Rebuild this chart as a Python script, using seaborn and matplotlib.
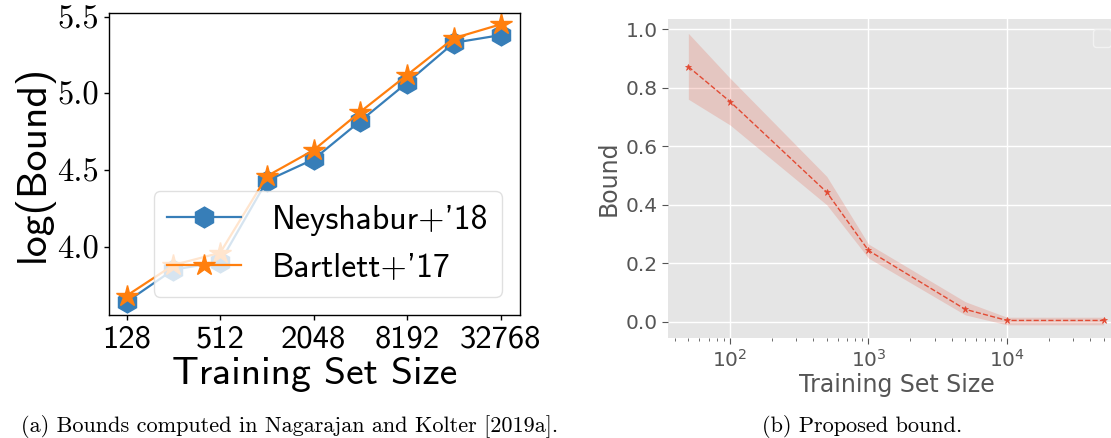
import numpy as np
import pandas as pd
import seaborn as sns
import matplotlib.pyplot as plt

# (a) log(Bound) from Nagarajan and Kolter
train_sizes = [128, 256, 512, 1024, 2048, 4096, 8192, 16384, 32768]
neyshabur = [3.64, 3.85, 3.90, 4.43, 4.57, 4.82, 5.07, 5.33, 5.38]
bartlett = [3.68, 3.88, 3.96, 4.46, 4.63, 4.88, 5.12, 5.36, 5.45]
left_xticks = [128, 512, 2048, 8192, 32768]
left_yticks = [4.0, 4.5, 5.0, 5.5]

# (b) proposed bound, mean and band
sizes = [50, 100, 500, 1000, 5000, 10000, 50000]
bound_mean = [0.872, 0.753, 0.443, 0.244, 0.043, 0.005, 0.005]
bound_upper = [0.986, 0.833, 0.497, 0.266, 0.069, 0.016, 0.016]
bound_lower = [0.761, 0.673, 0.400, 0.218, 0.024, -0.010, -0.010]
right_yticks = [0.0, 0.2, 0.4, 0.6, 0.8, 1.0]

plt.rcParams['axes.unicode_minus'] = False

W, H = 1111, 438
fig = plt.figure(figsize=(W / 100, H / 100), dpi=100)
# axes boxes in pixels: left, top, right, bottom
ax1 = fig.add_axes([108.5 / W, 1 - 315 / H, (520 - 108.5) / W, (315 - 12.7) / H])
ax2 = fig.add_axes([668.4 / W, 1 - 338 / H, (1124.5 - 668.4) / W, (338 - 19.3) / H])

# ---- left panel
blue = '#377eb8'
orange = '#ff7f0e'
sns.lineplot(x=train_sizes, y=neyshabur, ax=ax1, color=blue, marker='h',
             markersize=15, markeredgecolor=blue, markeredgewidth=1,
             linewidth=1.6, label="Neyshabur+'18")
sns.lineplot(x=train_sizes, y=bartlett, ax=ax1, color=orange, marker='*',
             markersize=16, markeredgecolor=orange, markeredgewidth=1,
             linewidth=1.6, label="Bartlett+'17")
ax1.set_xscale('log', base=2)
ax1.set_xlim(2 ** 6.611, 2 ** 15.413)
ax1.set_ylim(3.554, 5.526)
ax1.set_xticks(left_xticks)
ax1.set_xticklabels([str(t) for t in left_xticks], fontfamily='cmss10', fontsize=23.5)
ax1.minorticks_off()
ax1.set_yticks(left_yticks)
ax1.set_yticklabels([f'{t:.1f}' for t in left_yticks], fontfamily='cmr10', fontsize=23.5)
ax1.tick_params(length=3.5, width=1, colors='black')
for s in ax1.spines.values():
    s.set_color('black')
    s.set_linewidth(1)
ax1.set_xlabel('Training Set Size', fontfamily='cmss10', fontsize=28.5, labelpad=2)
ax1.set_ylabel('log(Bound)', fontfamily='cmss10', fontsize=30, labelpad=2)
ax1.legend(loc='lower right', bbox_to_anchor=(0.9555, 0.0595), borderaxespad=0,
           prop={'family': 'cmss10', 'size': 24.3}, handlelength=2.2,
           handletextpad=0.9, framealpha=0.8, edgecolor='0.85')

# ---- right panel (ggplot look)
red = '#E24A33'
ax2.set_facecolor('#E5E5E5')
for s in ax2.spines.values():
    s.set_visible(False)
ax2.grid(True, color='white', linewidth=1)
ax2.set_axisbelow(True)
ax2.fill_between(sizes, bound_lower, bound_upper, color=red, alpha=0.2, linewidth=0)
sns.lineplot(x=sizes, y=bound_mean, ax=ax2, color=red, linestyle='--',
             linewidth=1, marker='*', markersize=5, markeredgecolor=red,
             markeredgewidth=0.5)
ax2.set_xscale('log')
ax2.set_xlim(10 ** 1.555, 10 ** 4.849)
ax2.set_ylim(-0.055, 1.034)
ax2.set_yticks(right_yticks)
ax2.set_yticklabels([f'{t:.1f}' for t in right_yticks])
ax2.tick_params(which='both', colors='#555555', labelsize=14.5)
ax2.tick_params(which='major', length=4)
ax2.tick_params(which='minor', length=2)
ax2.set_xlabel('Training Set Size', fontsize=17, color='#555555', labelpad=2)
ax2.set_ylabel('Bound', fontsize=17, color='#555555', labelpad=4)
# the original calls legend() with nothing labelled -> empty box
ax2.legend(handles=[], labels=[], loc='upper left',
           bbox_to_anchor=(1093.3 / W, 1 - 29.3 / H), bbox_transform=fig.transFigure,
           borderaxespad=0, fancybox=True, borderpad=0.63,
           facecolor='#E5E5E5', edgecolor='#F2F2F2', framealpha=1)

# captions
fig.text(290 / W, 0.014, '(a) Bounds computed in Nagarajan and Kolter [2019a].',
         fontfamily='cmr10', fontsize=16, ha='center', va='baseline')
fig.text(862 / W, 0.014, '(b) Proposed bound.',
         fontfamily='cmr10', fontsize=16, ha='center', va='baseline')

fig.savefig('out.png', dpi=100)
